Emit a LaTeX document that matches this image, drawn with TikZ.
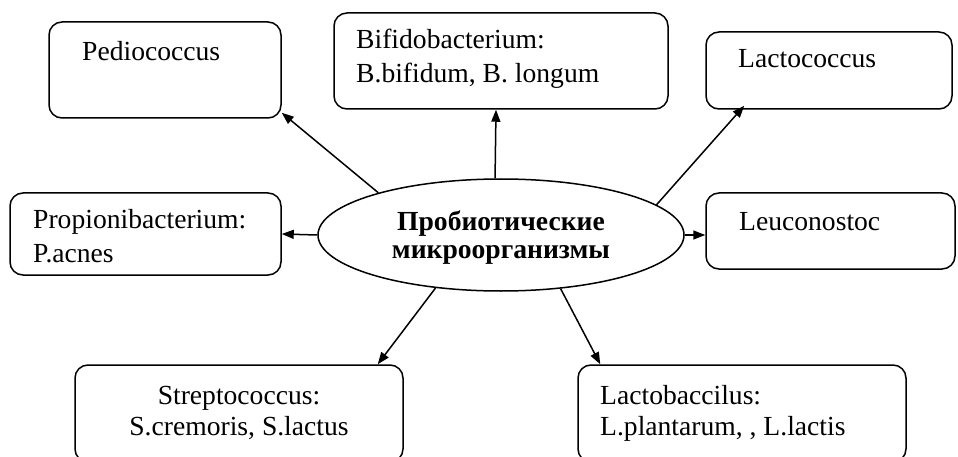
\documentclass[tikz,border=0pt]{standalone}
\usepackage{fontspec}
\setmainfont{Liberation Serif}
\usetikzlibrary{arrows.meta,shapes.geometric}
\tikzset{
  box/.style={draw, line width=1.5pt, rounded corners=13pt, inner sep=0pt, anchor=center},
  txt/.style={inner sep=0pt, font=\fontsize{27.6}{30}\selectfont},
  ctxt/.style={inner sep=0pt, font=\fontsize{27.6}{30}\selectfont\bfseries, anchor=base},
  arr/.style={line width=1.5pt, -{Triangle[length=12pt,width=9pt]}}
}
\begin{document}
\begin{tikzpicture}[x=1pt,y=-1pt]
\useasboundingbox (0,0) rectangle (958,457);
\clip (0,0) rectangle (958,457);
% boxes
\node[box, minimum width=232pt, minimum height=96pt] (ped) at (165,70) {};
\node[box, minimum width=334pt, minimum height=96pt] (bif) at (501,61) {};
\node[box, minimum width=246pt, minimum height=77pt] (lac) at (829,70.5) {};
\node[box, minimum width=271pt, minimum height=82pt] (prop) at (145.5,234) {};
\node[box, minimum width=249pt, minimum height=76pt] (leu) at (830.5,231) {};
\node[box, minimum width=328pt, minimum height=97pt] (strep) at (239,413.5) {};
\node[box, minimum width=328pt, minimum height=97pt] (lab) at (742,413.5) {};
\node[draw, ellipse, line width=1.5pt, inner sep=0pt, minimum width=366pt, minimum height=112pt] (ell) at (501,235) {};
% texts
\node[txt, anchor=base west] (tped) at (82,61) {Pediococcus};
\node[txt, anchor=base west] (tbif1) at (356,49) {Bifidobacterium:};
\node[txt, anchor=base west] (tbif2) at (356,83) {B.bifidum, B. longum};
\node[txt, anchor=base west] (tlac) at (738,68) {Lactococcus};
\node[txt, anchor=base west] (tprop1) at (33,228) {Propionibacterium:};
\node[txt, anchor=base west] (tprop2) at (33,262) {P.acnes};
\node[txt, anchor=base west] (tleu) at (739,230) {Leuconostoc};
\node[txt, anchor=base] (tstrep1) at (239,404) {Streptococcus:};
\node[txt, anchor=base] (tstrep2) at (239,435) {S.cremoris, S.lactus};
\node[txt, anchor=base west] (tlab1) at (600,404) {Lactobaccilus:};
\node[txt, anchor=base west] (tlab2) at (600,435) {L.plantarum, , L.lactis};
\node[ctxt] (tc1) at (501,230) {Пробиотические};
\node[ctxt] (tc2) at (501,258) {микроорганизмы};
% arrows
\draw[arr] (ell.161.7) -- ([yshift=6pt]ped.south east);
\draw[arr] (ell.96.5) -- ([xshift=-5pt]bif.south);
\draw[arr] (ell.11.8) -- ([xshift=39pt,yshift=4pt]lac.south west);
\draw[arr] (ell.west) -- (prop.east);
\draw[arr] (ell.east) -- (ell.east -| leu.west);
\draw[arr] (ell.219.5) -- ([xshift=-26pt]strep.north east);
\draw[arr] (ell.318) -- ([xshift=23pt]lab.north west);
\end{tikzpicture}
\end{document}
